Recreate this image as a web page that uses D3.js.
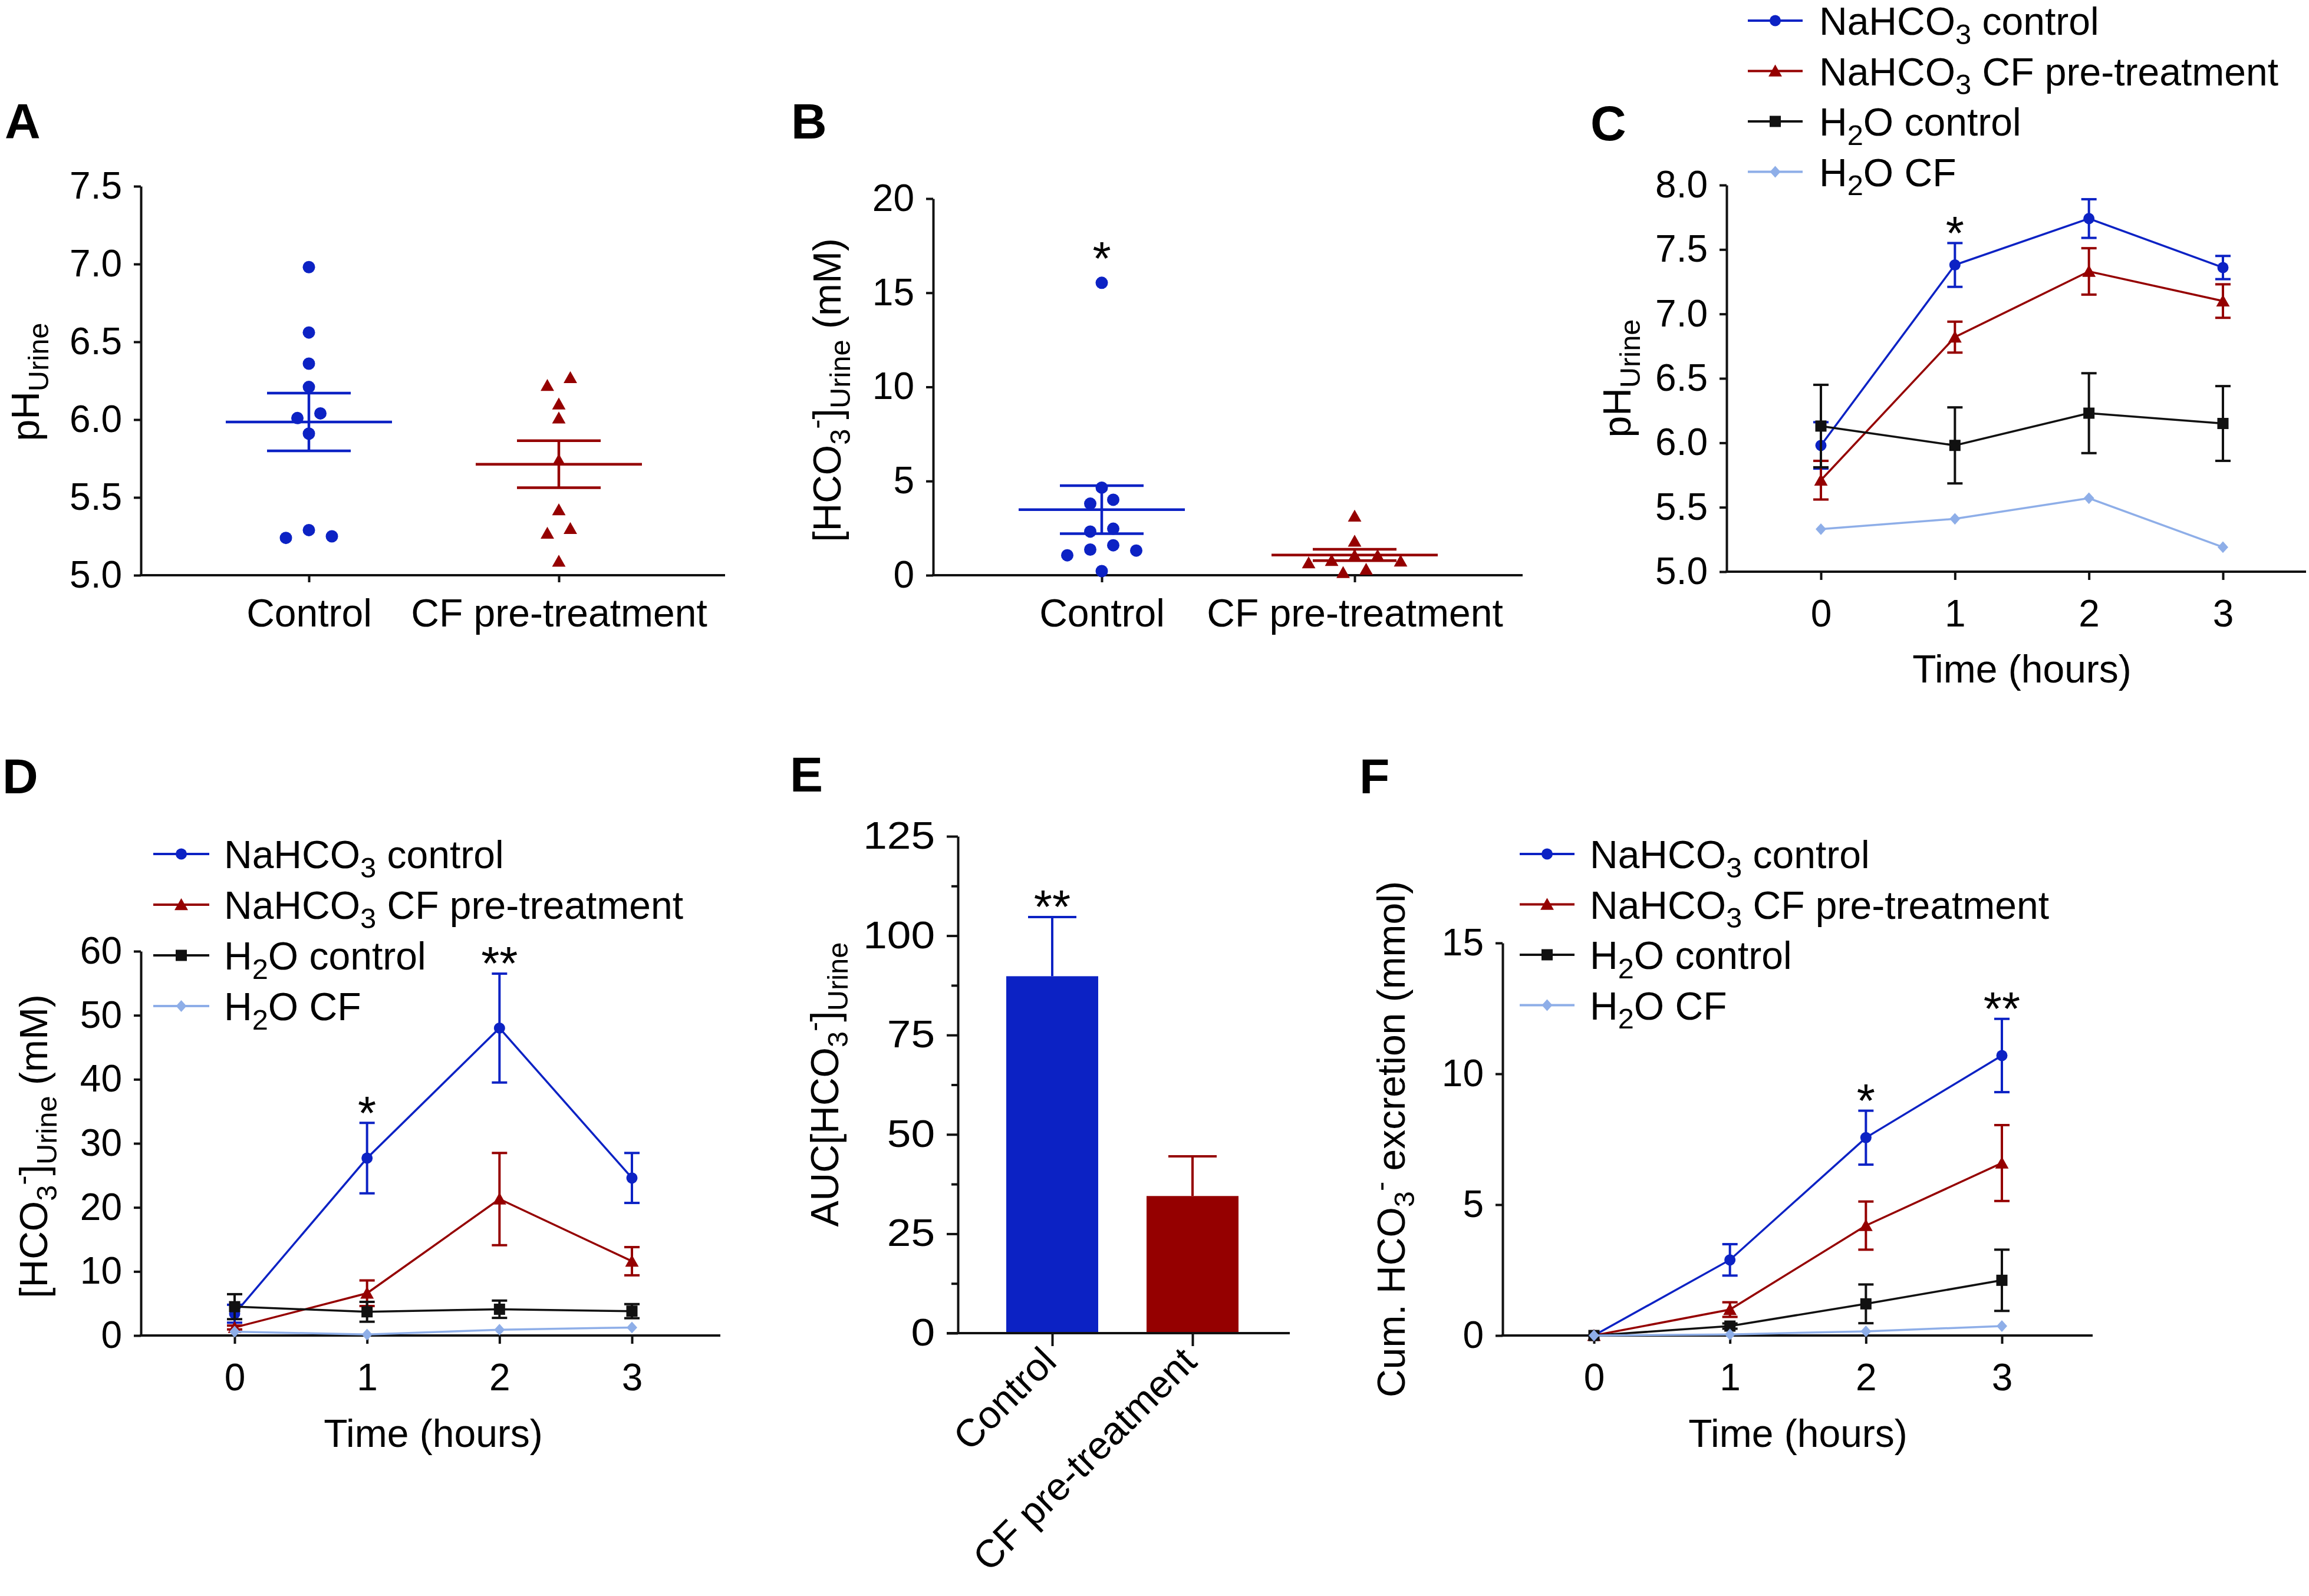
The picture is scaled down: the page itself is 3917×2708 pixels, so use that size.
<!DOCTYPE html>
<html><head><meta charset="utf-8">
<script src="https://cdn.jsdelivr.net/npm/d3@7"></script>
<style>
body{margin:0;background:#fff}
svg text{font-family:"Liberation Sans",Arial,Helvetica,sans-serif;white-space:pre}
</style></head>
<body>
<svg id="c" width="3917" height="2708" xmlns="http://www.w3.org/2000/svg"></svg>
<script>
// ================= DATA =================
const groupsAB = ["Control", "CF pre-treatment"];
// Panel A: urine pH (individual animals)
const phUrineControl = [6.98, 6.56, 6.36, 6.21, 6.04, 6.01, 5.91, 5.29, 5.25, 5.24];
const phUrineCF = [6.27, 6.22, 6.10, 6.01, 5.74, 5.42, 5.30, 5.27, 5.09];
const ticksA = [5.0, 5.5, 6.0, 6.5, 7.0, 7.5];
const starsA = ["", ""];
// Panel B: urine HCO3- (mM)
const hco3UrineControl = [15.53, 4.65, 4.01, 3.80, 2.47, 2.32, 1.59, 1.36, 1.31, 1.06, 0.22];
const hco3UrineCF = [3.14, 1.81, 1.04, 1.04, 0.78, 0.75, 0.66, 0.31, 0.14];
const ticksB = [0, 5, 10, 15, 20];
const starsB = ["*", ""];

const timeHours = [0, 1, 2, 3];
// Panel C: urine pH over time
const phNaCtrl = [5.98, 7.38, 7.74, 7.36];
const phNaCtrlSem = [0.18, 0.17, 0.15, 0.09];
const phNaCF = [5.71, 6.82, 7.33, 7.10];
const phNaCFSem = [0.15, 0.12, 0.18, 0.13];
const phH2OCtrl = [6.13, 5.98, 6.23, 6.15];
const phH2OCtrlSem = [0.32, 0.295, 0.31, 0.29];
const phH2OCF = [5.33, 5.41, 5.57, 5.19];
const phH2OCFSem = [0, 0, 0, 0];
const starsC = ["", "*", "", ""];
const ticksC = [5.0, 5.5, 6.0, 6.5, 7.0, 7.5, 8.0];
// Panel D: urine HCO3- over time (mM)
const hcNaCtrl = [3.4, 27.7, 48.0, 24.6];
const hcNaCtrlSem = [1.4, 5.5, 8.5, 3.9];
const hcNaCF = [1.25, 6.6, 21.3, 11.6];
const hcNaCFSem = [0.3, 2.0, 7.2, 2.2];
const hcH2OCtrl = [4.5, 3.7, 4.1, 3.8];
const hcH2OCtrlSem = [1.95, 1.55, 1.35, 1.1];
const hcH2OCF = [0.6, 0.15, 0.9, 1.25];
const hcH2OCFSem = [0, 0, 0, 0];
const starsD = ["", "*", "**", ""];
const ticksD = [0, 10, 20, 30, 40, 50, 60];
// Panel E: AUC
const aucValues = [89.8, 34.5];
const aucSem = [14.9, 10.0];
const starsE = ["**", ""];
const ticksE = [0, 25, 50, 75, 100, 125];
const ticksEMinor = [12.5, 37.5, 62.5, 87.5, 112.5];
// Panel F: cumulative HCO3- excretion (mmol)
const cumNaCtrl = [0, 2.89, 7.56, 10.70];
const cumNaCtrlSem = [0, 0.6, 1.03, 1.4];
const cumNaCF = [0, 0.99, 4.2, 6.59];
const cumNaCFSem = [0, 0.28, 0.92, 1.45];
const cumH2OCtrl = [0, 0.36, 1.21, 2.11];
const cumH2OCtrlSem = [0, 0.1, 0.74, 1.17];
const cumH2OCF = [0, 0.04, 0.16, 0.36];
const cumH2OCFSem = [0, 0, 0, 0];
const starsF = ["", "", "*", "**"];
const ticksF = [0, 5, 10, 15];

const seriesLabels = [
  [["NaHCO",""],["3","sub"],[" control",""]],
  [["NaHCO",""],["3","sub"],[" CF pre-treatment",""]],
  [["H",""],["2","sub"],["O control",""]],
  [["H",""],["2","sub"],["O CF",""]]
];

// ================= STYLE =================
const BLUE = "#0c22c4", RED = "#950000", BLACK = "#111111", LIGHT = "#8eaee8", AX = "#111111";
const svg = d3.select("#c");

const triSym = { draw(ctx, size) { const w = Math.sqrt(size);
  ctx.moveTo(0, -w*0.5); ctx.lineTo(w*0.52, w*0.42); ctx.lineTo(-w*0.52, w*0.42); ctx.closePath(); } };
const diaSym = { draw(ctx, size) { const w = Math.sqrt(size);
  ctx.moveTo(0, -w*0.55); ctx.lineTo(w*0.5, 0); ctx.lineTo(0, w*0.55); ctx.lineTo(-w*0.5, 0); ctx.closePath(); } };
const seriesStyle = [
  {color: BLUE, symbol: d3.symbolCircle, size: Math.PI*9.5*9.5},
  {color: RED, symbol: triSym, size: 22*22},
  {color: BLACK, symbol: d3.symbolSquare, size: 19*19},
  {color: LIGHT, symbol: diaSym, size: 18*18}
];

function rich(t, parts, size) {
  let cur = 0;
  parts.forEach(([s, k]) => {
    const target = k === "sub" ? 0.24*size : k === "sup" ? -0.38*size : 0;
    t.append("tspan").attr("dy", target - cur).attr("font-size", k ? size*0.74 : size).text(s);
    cur = target;
  });
}
function panelLabel(s, x, y) {
  svg.append("text").attr("x", x).attr("y", y).attr("font-size", 84).attr("font-weight", "bold").attr("fill", "#000").text(s);
}
function yLabel(x, y, parts, size = 66) {
  const t = svg.append("text").attr("transform", `translate(${x},${y}) rotate(-90)`)
    .attr("text-anchor", "middle").attr("font-size", size).attr("fill", "#000");
  rich(t, parts, size);
}
function xLabel(x, y, s) {
  svg.append("text").attr("x", x).attr("y", y).attr("text-anchor", "middle").attr("font-size", 66).attr("fill", "#000").text(s);
}
function styleAxis(ax, fs = 64) {
  ax.attr("font-family", null).attr("font-size", null);
  ax.selectAll("path.domain").attr("stroke", AX).attr("stroke-width", 4);
  ax.selectAll(".tick line").attr("stroke", AX).attr("stroke-width", 4);
  ax.selectAll(".tick text").attr("fill", "#000").attr("font-size", fs);
}
function yAxis(g, y, x0, ticks, fmt, size = 12) {
  const ax = g.append("g").attr("transform", `translate(${x0},0)`)
    .call(d3.axisLeft(y).tickValues(ticks).tickFormat(fmt).tickSize(size).tickSizeOuter(0).tickPadding(20));
  styleAxis(ax);
  return ax;
}
function xLine(g, x0, x1, y0) {
  g.append("line").attr("x1", x0 - 2).attr("x2", x1).attr("y1", y0).attr("y2", y0).attr("stroke", AX).attr("stroke-width", 4);
}
function xAxisTicks(g, x, y0, ticks, size = 14, pad = 34, fs = 64, fmt = null) {
  const a = d3.axisBottom(x).tickSize(size).tickPadding(pad).tickSizeOuter(0);
  if (ticks) a.tickValues(ticks);
  if (fmt) a.tickFormat(fmt);
  const ax = g.append("g").attr("transform", `translate(0,${y0})`).call(a);
  styleAxis(ax, fs);
  ax.select("path.domain").remove();
  return ax;
}
function star(g, x, yTop, s, gap = 36) {
  if (!s) return;
  g.append("text").attr("x", x).attr("y", yTop - gap + 0.58*80).attr("text-anchor", "middle")
    .attr("font-size", 80).attr("fill", "#000").text(s);
}

// symmetric row-based scatter layout (GraphPad style)
function swarm(values, y, thr, step) {
  const idx = values.map((v, i) => i).sort((a, b) => values[b] - values[a]);
  const offs = new Array(values.length).fill(0);
  const groups = []; let cur = [];
  idx.forEach(i => {
    if (cur.length && Math.abs(y(values[cur[0]]) - y(values[i])) < thr) cur.push(i);
    else { if (cur.length) groups.push(cur); cur = [i]; }
  });
  if (cur.length) groups.push(cur);
  groups.forEach(gr => {
    const n = gr.length, slots = [];
    if (n % 2) { slots.push(0); for (let k = 1; slots.length < n; k++) { slots.push(k); if (slots.length < n) slots.push(-k); } }
    else { for (let k = 0.5; slots.length < n; k++) { slots.push(k); slots.push(-k); } }
    gr.forEach((i, j) => offs[i] = slots[j]*step);
  });
  return offs;
}

function scatterPanel(g, x, y, sets, stars) {
  const styles = [{color: BLUE, symbol: d3.symbolCircle, size: Math.PI*10.5*10.5}, {color: RED, symbol: triSym, size: 22*22}];
  sets.forEach((vals, k) => {
    const st = styles[k], xc = x(groupsAB[k]);
    const offs = swarm(vals, y, 19, 39);
    g.append("g").selectAll("path").data(vals).enter().append("path")
      .attr("transform", (v, i) => `translate(${xc + offs[i]},${y(v)})`)
      .attr("d", d3.symbol().type(st.symbol).size(st.size)).attr("fill", st.color);
    const m = d3.mean(vals), se = d3.deviation(vals)/Math.sqrt(vals.length);
    const lg = g.append("g").attr("stroke", st.color).attr("stroke-width", 4.5);
    lg.append("line").attr("x1", xc - 141).attr("x2", xc + 141).attr("y1", y(m)).attr("y2", y(m));
    lg.append("line").attr("x1", xc).attr("x2", xc).attr("y1", y(m - se)).attr("y2", y(m + se));
    [m - se, m + se].forEach(v => lg.append("line").attr("x1", xc - 71).attr("x2", xc + 71).attr("y1", y(v)).attr("y2", y(v)));
    star(g, xc, y(d3.max(vals)) - 10, stars[k], 50);
  });
}

function timePanel(g, x, y, sets, stars) {
  sets.forEach((s, k) => {
    const st = seriesStyle[k];
    const pts = timeHours.map((t, i) => ({t, v: s[0][i], e: s[1][i]}));
    const eb = g.append("g").attr("stroke", st.color).attr("stroke-width", 4);
    pts.filter(p => p.e > 0).forEach(p => {
      const X = x(p.t), Y1 = y(p.v + p.e), Y2 = y(p.v - p.e);
      eb.append("line").attr("x1", X).attr("x2", X).attr("y1", Y1).attr("y2", Y2);
      eb.append("line").attr("x1", X - 13).attr("x2", X + 13).attr("y1", Y1).attr("y2", Y1);
      eb.append("line").attr("x1", X - 13).attr("x2", X + 13).attr("y1", Y2).attr("y2", Y2);
    });
    g.append("path").datum(pts).attr("fill", "none").attr("stroke", st.color).attr("stroke-width", 3.5)
      .attr("d", d3.line().x(p => x(p.t)).y(p => y(p.v)));
    g.append("g").selectAll("path").data(pts).enter().append("path")
      .attr("transform", p => `translate(${x(p.t)},${y(p.v)})`)
      .attr("d", d3.symbol().type(st.symbol).size(st.size)).attr("fill", st.color);
    if (k === 0) pts.forEach((p, i) => star(g, x(p.t), Math.min(y(p.v + p.e), y(p.v) - 10), stars[i]));
  });
}

function legend(g, x0, x1, tx, y0, dy) {
  seriesLabels.forEach((lab, i) => {
    const st = seriesStyle[i], Y = y0 + i*dy;
    g.append("line").attr("x1", x0).attr("x2", x1).attr("y1", Y).attr("y2", Y).attr("stroke", st.color).attr("stroke-width", 4);
    g.append("path").attr("transform", `translate(${(x0 + x1)/2},${Y})`)
      .attr("d", d3.symbol().type(st.symbol).size(st.size)).attr("fill", st.color);
    const t = g.append("text").attr("x", tx).attr("y", Y + 24).attr("font-size", 66).attr("fill", "#000");
    rich(t, lab, 66);
  });
}

const hcoLabel = [["[HCO",""],["3","sub"],["-","sup"],["]",""],["Urine","sub"],[" (mM)",""]];
const phLabel = [["pH",""],["Urine","sub"]];

// ================= PANEL A =================
{
  const g = svg.append("g");
  const x = d3.scalePoint().domain(groupsAB).range([524, 948]);
  const y = d3.scaleLinear().domain([5, 7.5]).range([976, 316]);
  xLine(g, 239, 1230, 976);
  yAxis(g, y, 239, ticksA, d3.format(".1f"));
  xAxisTicks(g, x, 976, null, 12, 28, 66);
  scatterPanel(g, x, y, [phUrineControl, phUrineCF], starsA);
  panelLabel("A", 8, 235);
  yLabel(66, 648, phLabel);
}
// ================= PANEL B =================
{
  const g = svg.append("g");
  const x = d3.scalePoint().domain(groupsAB).range([1869, 2298]);
  const y = d3.scaleLinear().domain([0, 20]).range([976, 337]);
  xLine(g, 1583, 2583, 976);
  yAxis(g, y, 1583, ticksB, d3.format("d"));
  xAxisTicks(g, x, 976, null, 12, 28, 66);
  scatterPanel(g, x, y, [hco3UrineControl, hco3UrineCF], starsB);
  panelLabel("B", 1342, 235);
  yLabel(1426, 662, hcoLabel);
}
// ================= PANEL C =================
{
  const g = svg.append("g");
  const x = d3.scaleLinear().domain([0, 3]).range([3089, 3771]);
  const y = d3.scaleLinear().domain([5, 8]).range([970, 314]);
  xLine(g, 2929, 3912, 970);
  yAxis(g, y, 2929, ticksC, d3.format(".1f"));
  xAxisTicks(g, x, 970, timeHours, 14, 34, 64, d3.format("d"));
  timePanel(g, x, y, [[phNaCtrl, phNaCtrlSem], [phNaCF, phNaCFSem], [phH2OCtrl, phH2OCtrlSem], [phH2OCF, phH2OCFSem]], starsC);
  legend(g, 2965, 3058, 3086, 35, 85.5);
  panelLabel("C", 2698, 238);
  yLabel(2766, 642, phLabel);
  xLabel(3430, 1158, "Time (hours)");
}
// ================= PANEL D =================
{
  const g = svg.append("g");
  const x = d3.scaleLinear().domain([0, 3]).range([398, 1072]);
  const y = d3.scaleLinear().domain([0, 60]).range([2266, 1614]);
  xLine(g, 239, 1222, 2266);
  yAxis(g, y, 239, ticksD, d3.format("d"));
  xAxisTicks(g, x, 2266, timeHours, 14, 34, 64, d3.format("d"));
  timePanel(g, x, y, [[hcNaCtrl, hcNaCtrlSem], [hcNaCF, hcNaCFSem], [hcH2OCtrl, hcH2OCtrlSem], [hcH2OCF, hcH2OCFSem]], starsD);
  legend(g, 260, 355, 380, 1449, 86);
  panelLabel("D", 4, 1346);
  yLabel(80, 1945, hcoLabel);
  xLabel(735, 2455, "Time (hours)");
}
// ================= PANEL E =================
{
  const g = svg.append("g");
  const x = d3.scalePoint().domain(groupsAB).range([1785, 2023]);
  const y = d3.scaleLinear().domain([0, 125]).range([2262, 1419]);
  const barW = 156;
  g.append("g").selectAll("rect").data(aucValues).enter().append("rect")
    .attr("x", (v, i) => x(groupsAB[i]) - barW/2).attr("width", barW)
    .attr("y", v => y(v)).attr("height", v => y(0) - y(v))
    .attr("fill", (v, i) => i === 0 ? BLUE : RED);
  aucValues.forEach((v, i) => {
    const X = x(groupsAB[i]), c = i === 0 ? BLUE : RED;
    const eg = g.append("g").attr("stroke", c).attr("stroke-width", 4);
    eg.append("line").attr("x1", X).attr("x2", X).attr("y1", y(v)).attr("y2", y(v + aucSem[i]));
    eg.append("line").attr("x1", X - 41).attr("x2", X + 41).attr("y1", y(v + aucSem[i])).attr("y2", y(v + aucSem[i]));
    star(g, X, y(v + aucSem[i]), starsE[i]);
  });
  xLine(g, 1608, 2188, 2262);
  const ay = yAxis(g, y, 1625, ticksE, d3.format("d"), 19);
  ay.selectAll(".tick text").each(function() {
    const L = this.getComputedTextLength();
    d3.select(this).attr("textLength", L*1.14).attr("lengthAdjust", "spacingAndGlyphs");
  });
  const am = g.append("g").attr("transform", "translate(1625,0)")
    .call(d3.axisLeft(y).tickValues(ticksEMinor).tickFormat("").tickSize(11).tickSizeOuter(0));
  styleAxis(am); am.select("path.domain").remove();
  const ax = xAxisTicks(g, x, 2262, null, 22, 0, 66);
  ax.selectAll(".tick text").attr("y", 0).attr("dy", 0).attr("text-anchor", "end")
    .attr("transform", "translate(10,52) rotate(-45)");
  panelLabel("E", 1340, 1343);
  yLabel(1422, 1840, [["AUC[HCO",""],["3","sub"],["-","sup"],["]",""],["Urine","sub"]]);
}
// ================= PANEL F =================
{
  const g = svg.append("g");
  const x = d3.scaleLinear().domain([0, 3]).range([2704, 3396]);
  const y = d3.scaleLinear().domain([0, 15]).range([2266, 1600]);
  xLine(g, 2549, 3550, 2266);
  yAxis(g, y, 2549, ticksF, d3.format("d"));
  xAxisTicks(g, x, 2266, timeHours, 14, 34, 64, d3.format("d"));
  timePanel(g, x, y, [[cumNaCtrl, cumNaCtrlSem], [cumNaCF, cumNaCFSem], [cumH2OCtrl, cumH2OCtrlSem], [cumH2OCF, cumH2OCFSem]], starsF);
  legend(g, 2578, 2671, 2697, 1449, 85.5);
  panelLabel("F", 2306, 1346);
  yLabel(2383, 1933, [["Cum. HCO",""],["3","sub"],["-","sup"],[" excretion (mmol)",""]]);
  xLabel(3050, 2455, "Time (hours)");
}
</script>
</body></html>
